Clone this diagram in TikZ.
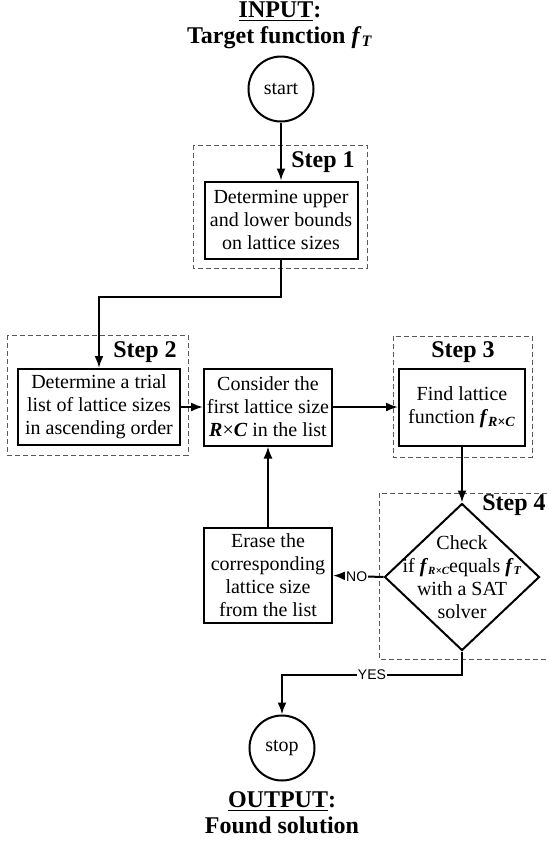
\documentclass[tikz,border=0pt]{standalone}
\usepackage{fontspec}
\setmainfont{Liberation Serif}
\setsansfont{Liberation Sans}
\usetikzlibrary{shapes,arrows.meta,positioning}

\begin{document}
\begin{tikzpicture}[x=0.5pt,y=-0.5pt]
		\tikzstyle{Terminal}	= [circle, draw, line width=1pt, minimum size=32.5pt, inner sep=0pt, font=\fontsize{10}{12}\selectfont]
		\tikzstyle{Process}	= [rectangle, draw, line width=1pt, align=center, inner sep=0pt, font=\fontsize{10}{11.5}\selectfont]
		\tikzstyle{Decision}	= [diamond, draw, line width=1pt, minimum width=77.5pt, minimum height=73.5pt, inner sep=0pt]
		\tikzstyle{Frame}	= [dash pattern=on 2.5pt off 1.5pt, black!65, line width=0.5pt]
		\tikzstyle{StepLabel}	= [font=\bfseries\fontsize{12}{14}\selectfont]
		\tikzstyle{Title}	= [align=center, font=\bfseries\fontsize{12}{13}\selectfont]
		\tikzstyle{Flow}	= [line width=1pt, -{Latex[length=6pt,width=4.5pt]}]
		\tikzstyle{Answer}	= [fill=white, inner sep=0.6pt, font=\sffamily\fontsize{7}{8}\selectfont]

		\useasboundingbox (0,0) rectangle (549,843);

		% dashed step frames
		\draw [Frame] (193,145) rectangle (367,268);
		\draw [Frame] (7,335) rectangle (188,455);
		\draw [Frame] (393,336) rectangle (532,457);
		\draw [Frame] (555,493) -- (379,493) -- (379,659) -- (555,659);

		\node (step1lbl) at (323,162) [StepLabel] {Step 1};
		\node (step2lbl) at (145,352) [StepLabel] {Step 2};
		\node (step3lbl) at (463,352) [StepLabel] {Step 3};
		\node (step4lbl) at (514,505) [StepLabel] {Step 4};

		\node (input) at (280,25) [Title] {\underline{INPUT}:\\Target function \textit{f}\textsubscript{\textit{T}}};
		\node (output) at (282,813) [Title] {\underline{OUTPUT}:\\Found solution};

		\node (start) at (281,89) [Terminal] {start};
		\node (stop) at (282,748) [Terminal] {stop};

		\node (bounds) at (281,220) [Process, minimum width=76.5pt, minimum height=38.5pt] {Determine upper\\and lower bounds\\on lattice sizes};
		\node (trial) at (99,407) [Process, minimum width=81pt, minimum height=38pt] {Determine a trial\\list of lattice sizes\\in ascending order};
		\node (consider) at (268,407) [Process, minimum width=64pt, minimum height=38.5pt] {Consider the\\first lattice size\\\textbf{\textit{R}}×\textbf{\textit{C}} in the list};
		\node (find) at (462,407) [Process, minimum width=63pt, minimum height=38.5pt] {Find lattice\\function \textbf{\textit{f}}\textsubscript{\textbf{\textit{R×C}}}};
		\node (erase) at (268,575.5) [Process, minimum width=64pt, minimum height=47.5pt] {Erase the\\corresponding\\lattice size\\from the list};
		\node (check) at (462,577) [Decision] {};
		\node (checktext) at (check.center) [align=center, inner sep=0pt, font=\fontsize{10}{11.5}\selectfont] {Check\\if \textbf{\textit{f}}{\fontsize{5.5}{6}\selectfont\raisebox{-1.2pt}{\textbf{\textit{R×C}}}}equals \textbf{\textit{f}}{\fontsize{6}{6}\selectfont\raisebox{-1.2pt}{\textbf{\textit{T}}}}\\with a SAT\\solver};

		\coordinate (boundsout) at (281,297);
		\coordinate (yesbend) at (462,675);
		\coordinate (yesturn) at (282,675);

		\draw [Flow] (start) to (bounds);
		\draw [Flow] (bounds.south) -- (boundsout) -| (trial.north);
		\draw [Flow] (trial) to (consider);
		\draw [Flow] (consider) to (find);
		\draw [Flow] (find.south) to (check.north);
		\draw [Flow] (check.west) -- node [Answer, pos=0.53] {NO} (erase.east);
		\draw [Flow] (erase.north) to (consider.south);
		\draw [Flow] (check.south) -- (yesbend) -- node [Answer] {YES} (yesturn) -- (stop.north);
	\end{tikzpicture}
\end{document}
